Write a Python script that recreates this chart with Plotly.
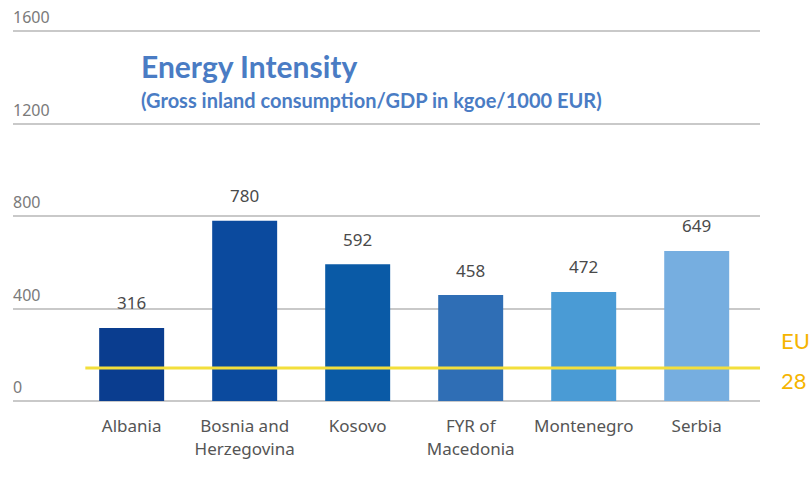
import plotly.graph_objects as go

countries = ["Albania", "Bosnia and<br>Herzegovina", "Kosovo", "FYR of<br>Macedonia", "Montenegro", "Serbia"]
values = [316, 780, 592, 458, 472, 649]
bar_colors = ["#0a3d8f", "#0b4a9e", "#0a5aa6", "#2f6eb5", "#4a9bd5", "#76aee0"]
eu28_value = 143
y_ticks = [0, 400, 800, 1200, 1600]

fig = go.Figure()
fig.add_trace(go.Bar(
    x=list(range(len(countries))), y=values,
    marker=dict(color=bar_colors, line=dict(width=0)),
    hoverinfo="skip", showlegend=False,
))

# value labels above bars
for i, v in enumerate(values):
    fig.add_annotation(x=i, y=v, text=str(v), showarrow=False, yshift=25,
                       font=dict(family="Noto Sans", size=17, color="#4a4a4a"))

# y tick labels sitting above their gridlines
for t in y_ticks:
    fig.add_annotation(xref="paper", yref="y", x=0, y=t, text=str(t), showarrow=False,
                       xanchor="left", yanchor="middle", xshift=-2, yshift=14,
                       font=dict(family="Noto Sans", size=16, color="#7a7a7a"))

# EU28 reference line
fig.add_shape(type="line", xref="x", yref="y", x0=-0.41, x1=5.56, y0=eu28_value, y1=eu28_value,
              line=dict(color="#f3df3c", width=3), layer="above")
fig.add_annotation(xref="paper", yref="y", x=1.0254, y=eu28_value, yshift=27, text="EU",
                   showarrow=False, xanchor="left",
                   font=dict(family="Lato", size=22, color="#f5b400"))
fig.add_annotation(xref="paper", yref="y", x=1.0254, y=eu28_value, yshift=-13, text="28",
                   showarrow=False, xanchor="left",
                   font=dict(family="Lato", size=22, color="#f5b400"))

# titles
fig.add_annotation(xref="paper", yref="paper", x=0.1687, y=0.852, xanchor="left", yanchor="middle",
                   text="<b>Energy Intensity</b>", showarrow=False,
                   font=dict(family="Lato", size=30, color="#4a7cc4"))
fig.add_annotation(xref="paper", yref="paper", x=0.1687, y=0.766, xanchor="left", yanchor="middle",
                   text="<b>(Gross inland consumption/GDP in kgoe/1000 EUR)</b>", showarrow=False,
                   font=dict(family="Lato", size=20, color="#4a7cc4"))

fig.update_layout(
    width=810, height=487,
    margin=dict(l=13, r=50, t=8, b=86),
    plot_bgcolor="white", paper_bgcolor="white",
    bargap=0.425,
    xaxis=dict(range=[-1.05, 5.56], tickmode="array", tickvals=list(range(len(countries))),
               ticktext=countries, showgrid=False, zeroline=False, showline=False,
               ticks="outside", ticklen=10, tickcolor="rgba(0,0,0,0)",
               tickfont=dict(family="Noto Sans", size=17, color="#555555")),
    yaxis=dict(range=[0, 1700], tickvals=y_ticks, showticklabels=False,
               showgrid=True, gridcolor="#c9c9c9", gridwidth=2, zeroline=True,
               zerolinecolor="#c9c9c9", zerolinewidth=2),
)

fig.write_html("out.html", config={"displayModeBar": False},
               post_script="document.body.style.margin='0';document.body.style.overflow='hidden';")
